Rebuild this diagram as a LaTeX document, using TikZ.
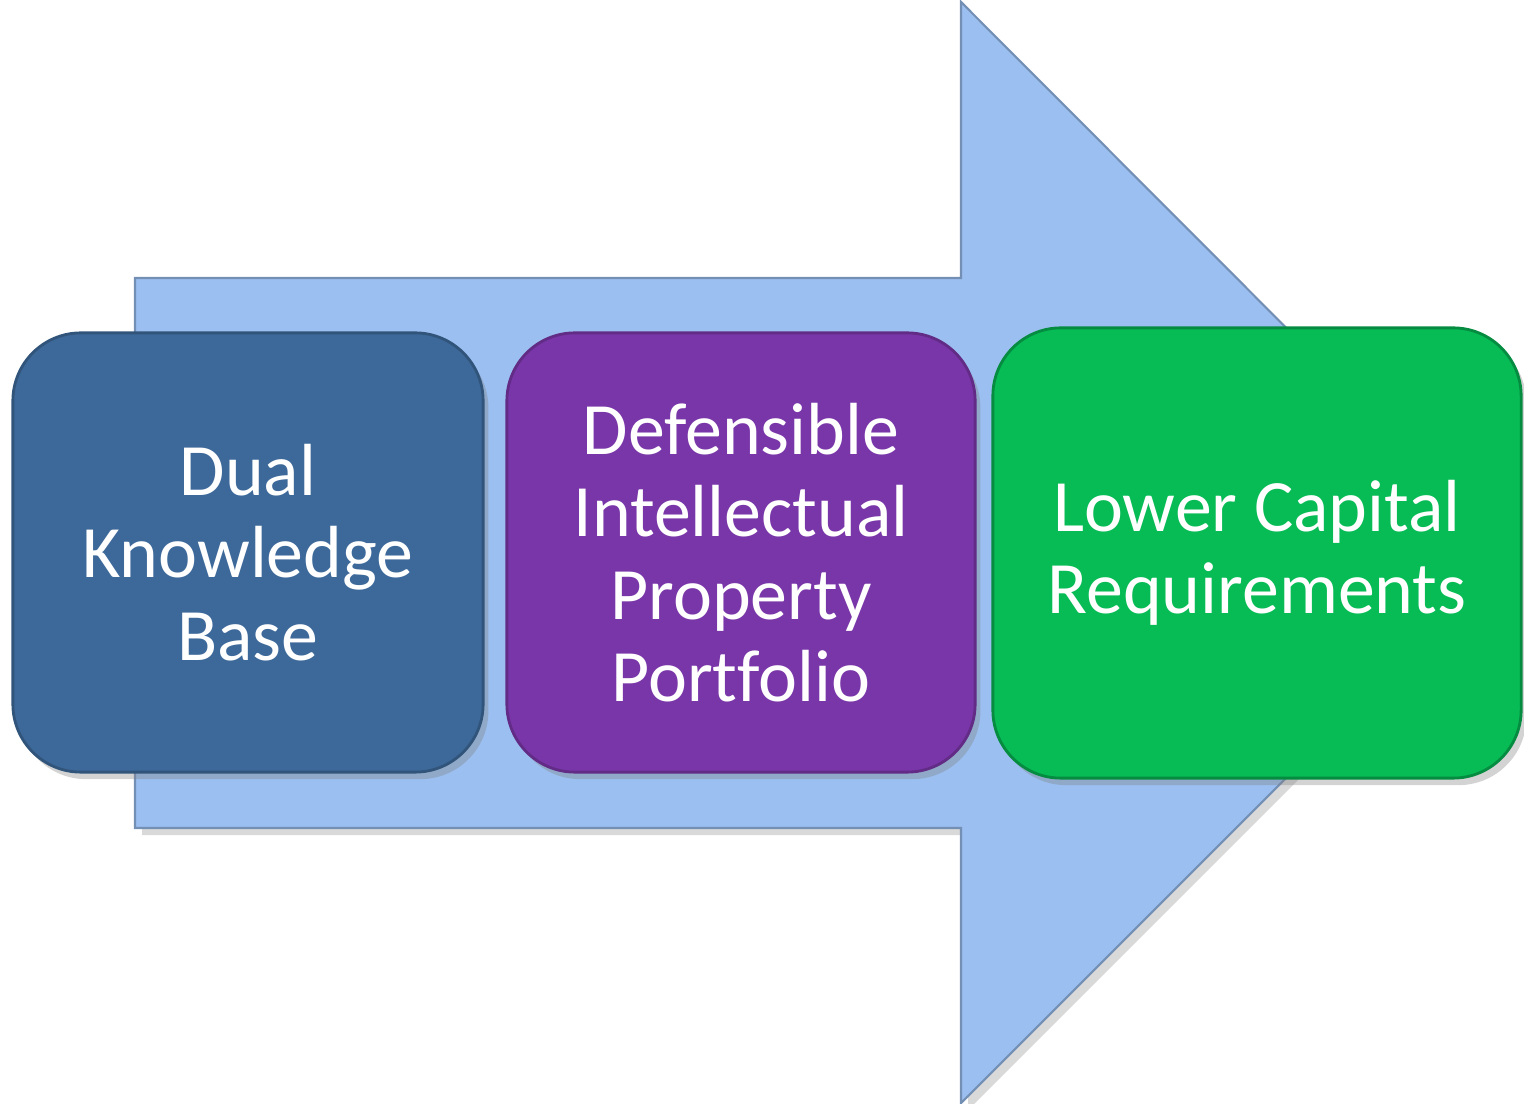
\documentclass[tikz,border=0pt]{standalone}
\usepackage{fontspec}
\setmainfont{Carlito}[Ligatures=NoCommon]
\usetikzlibrary{calc,shadows}
\definecolor{arrowfill}{RGB}{155,191,240}
\definecolor{dualblue}{RGB}{61,105,154}
\definecolor{ipviolet}{RGB}{121,54,168}
\definecolor{capgreen}{RGB}{7,187,85}
\tikzset{
  stepbox/.style={rounded corners=0.68cm,align=center,text=white,
    line width=0.8pt,font=\fontsize{21}{23.4}\selectfont,
    drop shadow={opacity=0.35,shadow xshift=1.5pt,shadow yshift=-2pt}},
}

\begin{document}
\begin{tikzpicture}[x=0.01cm,y=-0.01cm]
\useasboundingbox (0,0) rectangle (1524,1104);

% Arrow shaft
\coordinate (S1) at (135,278);
\coordinate (S2) at (961,278);
\coordinate (S3) at (961,828);
\coordinate (S4) at (135,828);

% Arrow head
\coordinate (H1) at (961,2);
\coordinate (T) at (1511,553);
\coordinate (H2) at (961,1103);

\draw[arrowfill!75!black,fill=arrowfill,line width=0.6pt,
  drop shadow={opacity=0.3,shadow xshift=2pt,shadow yshift=-2pt}]
  (S1) -- (S2) -- (H1) -- (T) -- (H2) -- (S3) -- (S4) -- cycle;

% Boxes
\node[stepbox,fill=dualblue,draw=dualblue!80!black,
  minimum width=4.70cm,minimum height=4.39cm] (dual) at (248,552.5)
  {Dual\\Knowledge\\Base};
\node[stepbox,fill=ipviolet,draw=ipviolet!80!black,
  minimum width=4.68cm,minimum height=4.39cm] (ip) at (741,552.5)
  {Defensible\\Intellectual\\Property\\Portfolio};
\node[stepbox,fill=capgreen,draw=capgreen!75!black,
  minimum width=5.28cm,minimum height=4.50cm] (cap) at (1257,553)
  {Lower Capital\\Requirements};
\end{tikzpicture}
\end{document}
